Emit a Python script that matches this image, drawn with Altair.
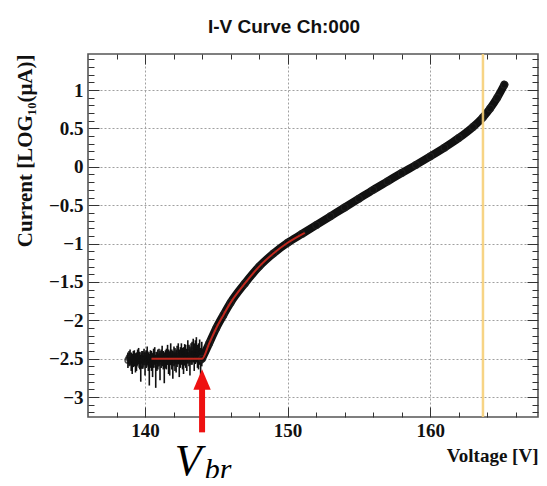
import altair as alt
import pandas as pd

# ---------------- data ----------------
noise_v = [138.80, 138.88, 138.95, 139.03, 139.10, 139.18, 139.25, 139.33, 139.40, 139.48,
           139.55, 139.63, 139.70, 139.78, 139.85, 139.93, 140.00, 140.08, 140.15, 140.23,
           140.30, 140.38, 140.45, 140.53, 140.60, 140.68, 140.75, 140.83, 140.90, 140.98,
           141.05, 141.13, 141.20, 141.28, 141.35, 141.43, 141.50, 141.58, 141.65, 141.73,
           141.80, 141.88, 141.95, 142.03, 142.10, 142.18, 142.25, 142.33, 142.40, 142.48,
           142.55, 142.63, 142.70, 142.78, 142.85, 142.93, 143.00, 143.08, 143.15, 143.23,
           143.30, 143.38, 143.45, 143.53, 143.60, 143.68, 143.75, 143.83, 143.90, 143.98]
noise_y = [-2.52, -2.49, -2.47, -2.53, -2.55, -2.50, -2.49, -2.54, -2.53, -2.48,
           -2.46, -2.52, -2.58, -2.51, -2.50, -2.47, -2.54, -2.50, -2.45, -2.53,
           -2.56, -2.49, -2.51, -2.55, -2.48, -2.46, -2.57, -2.52, -2.50, -2.48,
           -2.53, -2.49, -2.46, -2.51, -2.55, -2.50, -2.49, -2.45, -2.52, -2.54,
           -2.44, -2.50, -2.54, -2.47, -2.50, -2.52, -2.47, -2.44, -2.53, -2.49,
           -2.45, -2.50, -2.51, -2.46, -2.48, -2.52, -2.42, -2.47, -2.50, -2.45,
           -2.44, -2.40, -2.47, -2.43, -2.40, -2.48, -2.46, -2.42, -2.52, -2.44]
noise_lo = [-2.62, -2.60, -2.58, -2.66, -2.70, -2.61, -2.60, -2.68, -2.66, -2.59,
            -2.57, -2.64, -2.80, -2.63, -2.63, -2.58, -2.72, -2.62, -2.58, -2.66,
            -2.85, -2.62, -2.66, -2.74, -2.62, -2.58, -2.88, -2.66, -2.64, -2.60,
            -2.78, -2.62, -2.60, -2.64, -2.82, -2.63, -2.64, -2.58, -2.70, -2.72,
            -2.58, -2.64, -2.76, -2.60, -2.66, -2.68, -2.61, -2.57, -2.74, -2.62,
            -2.58, -2.64, -2.70, -2.59, -2.62, -2.66, -2.56, -2.60, -2.72, -2.58,
            -2.58, -2.55, -2.66, -2.57, -2.55, -2.62, -2.64, -2.58, -2.85, -2.60]
noise_hi = [-2.42, -2.40, -2.38, -2.42, -2.44, -2.40, -2.39, -2.43, -2.42, -2.38,
            -2.36, -2.41, -2.45, -2.40, -2.40, -2.37, -2.42, -2.39, -2.34, -2.42,
            -2.44, -2.39, -2.40, -2.43, -2.37, -2.35, -2.45, -2.41, -2.38, -2.37,
            -2.40, -2.38, -2.33, -2.40, -2.42, -2.39, -2.37, -2.32, -2.38, -2.41,
            -2.30, -2.38, -2.40, -2.34, -2.36, -2.38, -2.33, -2.30, -2.38, -2.35,
            -2.30, -2.36, -2.35, -2.31, -2.32, -2.37, -2.26, -2.32, -2.34, -2.30,
            -2.28, -2.24, -2.30, -2.26, -2.22, -2.32, -2.30, -2.25, -2.36, -2.28]

curve_v = [144.0, 144.5, 145.0, 145.5, 146.0, 147.0, 148.0, 149.0, 150.0, 151.0,
           152.0, 153.0, 154.0, 155.0, 156.0, 157.0, 158.0, 159.0, 160.0, 161.0,
           162.0, 163.0, 163.7, 164.2, 164.7, 165.2]
curve_y = [-2.50, -2.30, -2.10, -1.93, -1.77, -1.52, -1.30, -1.13, -0.99, -0.875,
           -0.76, -0.645, -0.53, -0.415, -0.30, -0.19, -0.08, 0.025, 0.135, 0.25,
           0.375, 0.52, 0.645, 0.76, 0.90, 1.07]

fit_v = [140.45, 144.0, 144.5, 145.0, 145.5, 146.0, 147.0, 148.0, 149.0, 150.0, 151.2]
fit_y = [-2.50, -2.50, -2.30, -2.10, -1.93, -1.77, -1.52, -1.30, -1.13, -0.99, -0.86]

marker_v = [163.7]          # yellow vertical line
vbr_v = [144.0]             # breakdown voltage annotation
arrow_lo = [-3.46]
arrow_hi = [-2.86]
arrow_head_y = [-2.77]
label_v_y = [-4.01]
label_br_y = [-4.07]

x_major = [140, 150, 160]
x_minor = [138, 142, 144, 146, 148, 152, 154, 156, 158, 162, 164, 166]
y_major = [-3, -2.5, -2, -1.5, -1, -0.5, 0, 0.5, 1]
y_minor = [round(-3.2 + 0.1 * i, 1) for i in range(47)]
y_minor = [v for v in y_minor if round(v * 2) != v * 2]

noise_df = pd.DataFrame({"v": noise_v, "y": noise_y, "lo": noise_lo, "hi": noise_hi})
curve_df = pd.DataFrame({"v": curve_v, "y": curve_y})
fit_df = pd.DataFrame({"v": fit_v, "y": fit_y})
marker_df = pd.DataFrame({"v": marker_v})
ann_df = pd.DataFrame({"v": vbr_v, "lo": arrow_lo, "hi": arrow_hi, "head": arrow_head_y,
                       "ly": label_v_y, "by": label_br_y})

# ---------------- layout ----------------
W, H = 450, 363
XDOM = [136.0, 167.56]
YDOM = [-3.26, 1.47]
xs = alt.Scale(domain=XDOM, nice=False, zero=False)
ys = alt.Scale(domain=YDOM, nice=False, zero=False)
SERIF = "Liberation Serif"
TXT = "#111111"
TICK = "#333333"


def tick_axis(orient, values, size):
    off = -H if orient in ("top", "bottom") else -W
    return alt.Axis(orient=orient, offset=off, values=values, tickSize=size,
                    tickColor=TICK, tickWidth=1, labels=False, domain=False,
                    grid=False, title=None)


x_lab = alt.Axis(orient="bottom", values=x_major, format="d", ticks=False, domain=False,
                 grid=True, gridColor="#a0a0a0", gridDash=[2, 2], gridWidth=1,
                 labelFont=SERIF, labelFontWeight="bold", labelFontSize=19,
                 labelColor=TXT, labelPadding=4,
                 title="Voltage [V]", titleFont=SERIF, titleFontWeight="bold",
                 titleFontSize=19, titleColor=TXT, titleX=W, titleY=44,
                 titleAlign="right", titleBaseline="alphabetic")
y_lab = alt.Axis(orient="left", values=y_major, format="~g", ticks=False, domain=False,
                 grid=True, gridColor="#a0a0a0", gridDash=[2, 2], gridWidth=1,
                 labelFont=SERIF, labelFontWeight="bold", labelFontSize=19,
                 labelColor=TXT, labelPadding=5,
                 title="Current [LOG₁₀(μA)]", titleFont=SERIF, titleFontWeight="bold",
                 titleFontSize=21, titleColor=TXT, titleAngle=270, titleX=-63, titleY=0,
                 titleAlign="right", titleBaseline="middle")

err = alt.Chart(noise_df).mark_rule(color=TXT, strokeWidth=1.6).encode(
    x=alt.X("v:Q", scale=xs, axis=x_lab),
    y=alt.Y("lo:Q", scale=ys, axis=y_lab),
    y2="hi:Q",
)
noise_pts = alt.Chart(noise_df).mark_point(shape="circle", size=32, color=TXT,
                                           strokeWidth=1.6, filled=False).encode(
    x=alt.X("v:Q", scale=xs, axis=tick_axis("top", x_major, 10)),
    y=alt.Y("y:Q", scale=ys, axis=tick_axis("right", y_major, 11)),
)
curve_line = alt.Chart(curve_df).mark_line(color=TXT, strokeWidth=8, strokeCap="round",
                                           interpolate="monotone").encode(
    x=alt.X("v:Q", scale=xs, axis=tick_axis("top", x_minor, 5)),
    y=alt.Y("y:Q", scale=ys, axis=tick_axis("right", y_minor, 6)),
)
curve_pts = alt.Chart(curve_df).mark_point(shape="circle", size=45, color="#222222",
                                           strokeWidth=1.2, filled=False).encode(
    x=alt.X("v:Q", scale=xs, axis=tick_axis("bottom", x_major, 10)),
    y=alt.Y("y:Q", scale=ys, axis=tick_axis("left", y_major, 11)),
)
fit_line = alt.Chart(fit_df).mark_line(color="#c0281e", strokeWidth=2,
                                       interpolate="monotone").encode(
    x=alt.X("v:Q", scale=xs, axis=tick_axis("bottom", x_minor, 5)),
    y=alt.Y("y:Q", scale=ys, axis=tick_axis("left", y_minor, 6)),
)
marker = alt.Chart(marker_df).mark_rule(color="#f6cf78", strokeWidth=2.5, opacity=0.9).encode(
    x=alt.X("v:Q", scale=xs, axis=None),
)
shaft = alt.Chart(ann_df).mark_rule(color="#ee1111", strokeWidth=6).encode(
    x=alt.X("v:Q", scale=xs, axis=None),
    y=alt.Y("lo:Q", scale=ys, axis=None),
    y2="hi:Q",
)
head = alt.Chart(ann_df).mark_point(shape="M0,-1L0.85,1L-0.85,1Z", size=420, filled=True,
                                    color="#ee1111", opacity=1).encode(
    x=alt.X("v:Q", scale=xs, axis=None),
    y=alt.Y("head:Q", scale=ys, axis=None),
)
lab_v = alt.Chart(ann_df).mark_text(text="V", font=SERIF, fontStyle="italic", fontSize=44,
                                    color="#000000", align="center", baseline="alphabetic",
                                    dx=-14).encode(
    x=alt.X("v:Q", scale=xs, axis=None),
    y=alt.Y("ly:Q", scale=ys, axis=None),
)
lab_br = alt.Chart(ann_df).mark_text(text="br", font=SERIF, fontStyle="italic", fontSize=30,
                                     color="#000000", align="center", baseline="alphabetic",
                                     dx=16).encode(
    x=alt.X("v:Q", scale=xs, axis=None),
    y=alt.Y("by:Q", scale=ys, axis=None),
)

chart = alt.layer(err, noise_pts, curve_line, curve_pts, fit_line, marker,
                  shaft, head, lab_v, lab_br).resolve_axis(
    x="independent", y="independent"
).properties(
    width=W, height=H,
    title=alt.TitleParams("I-V Curve Ch:000", font="Liberation Sans", fontWeight="bold",
                          fontSize=19, color=TXT, anchor="middle", frame="group",
                          dx=-29, offset=1, baseline="alphabetic"),
    autosize=alt.AutoSizeParams(type="none"),
    padding={"left": 80, "top": 46, "right": 1, "bottom": 61},
    background="white",
).configure_view(stroke="#555555", strokeWidth=1.6)

chart.save("out.html", embed_options={"renderer": "svg", "actions": False})
